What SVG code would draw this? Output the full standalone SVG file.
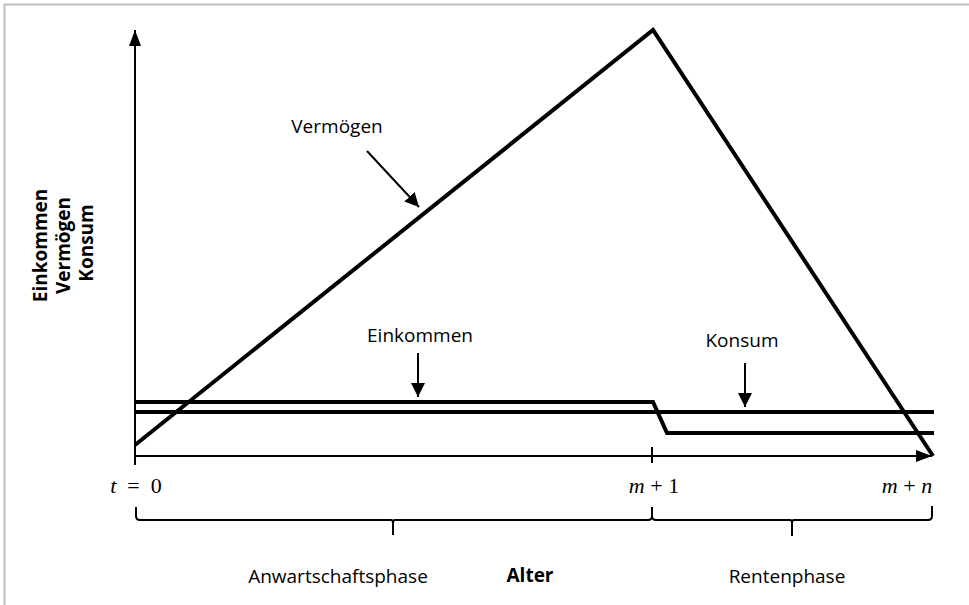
<svg xmlns="http://www.w3.org/2000/svg" width="969" height="605" viewBox="0 0 969 605">
<style>
.thick{fill:none;stroke:#000;stroke-width:4;stroke-linejoin:miter}
.thin{fill:none;stroke:#000;stroke-width:2}
.lbl{font-family:"Open Sans","Noto Sans",sans-serif;font-size:19px;fill:#000}
.bold{font-family:"Open Sans","Noto Sans",sans-serif;font-size:19px;font-weight:bold;fill:#000}
.math{font-family:"Liberation Serif","DejaVu Serif",serif;font-size:22px;fill:#000}
</style>
<defs>
<marker id="ah" markerWidth="14" markerHeight="14" refX="14" refY="7" orient="auto" markerUnits="userSpaceOnUse">
<path d="M0,0 L14,7 L0,14 Z" fill="#000"/>
</marker>
<marker id="axh" markerWidth="16" markerHeight="14" refX="16" refY="7" orient="auto" markerUnits="userSpaceOnUse">
<path d="M0,1 L16,7 L0,13 Z" fill="#000"/>
</marker>
</defs>
<rect width="969" height="605" fill="#fff"/>
<rect x="4.5" y="4.5" width="975" height="615" fill="none" stroke="#bdbdbd" stroke-width="2"/>

<g id="axes">
<line class="thin" x1="135" y1="465" x2="135" y2="30" marker-end="url(#axh)"/>
<line class="thin" x1="135" y1="456" x2="932" y2="456" marker-end="url(#axh)"/>
<line class="thin" x1="652" y1="447" x2="652" y2="463"/>
</g>

<g id="curves">
<polyline id="vermoegen-line" class="thick" points="135,445 653,30 933,456"/>
<polyline id="einkommen-line" class="thick" points="135,402 653,402 667,433 934,433"/>
<polyline id="konsum-line" class="thick" points="135,412 934,412"/>
</g>

<g id="connectors">
<line class="thin" x1="367" y1="151" x2="419" y2="207" marker-end="url(#ah)"/>
<line class="thin" x1="418" y1="353" x2="418" y2="397" marker-end="url(#ah)"/>
<line class="thin" x1="745" y1="363" x2="745" y2="407" marker-end="url(#ah)"/>
</g>

<g id="label-vermoegen"><text class="lbl" x="337" y="133" text-anchor="middle">Vermögen</text></g>
<g id="label-einkommen"><text class="lbl" x="420" y="342" text-anchor="middle">Einkommen</text></g>
<g id="label-konsum"><text class="lbl" x="742" y="347" text-anchor="middle">Konsum</text></g>

<g id="y-label">
<text class="bold" transform="translate(93,243) rotate(-90)" text-anchor="middle">
<tspan x="0" y="-46">Einkommen</tspan>
<tspan x="0" y="-23">Vermögen</tspan>
<tspan x="0" y="0">Konsum</tspan>
</text>
</g>

<g id="ticks">
<text class="math" x="136" y="493" text-anchor="middle" xml:space="preserve"><tspan font-style="italic">t</tspan>  =  0</text>
<text class="math" x="654" y="493" text-anchor="middle"><tspan font-style="italic">m</tspan> + 1</text>
<text class="math" x="907" y="493" text-anchor="middle"><tspan font-style="italic">m</tspan> + <tspan font-style="italic">n</tspan></text>
</g>

<g id="braces">
<path class="thin" d="M136,507 L136,516 Q136,520 140,520 L391,520 Q393,520 393,523 L393,535 M393,523 Q393,520 395,520 L648,520 Q652,520 652,516 L652,507"/>
<path class="thin" d="M652,516 Q652,520 656,520 L790,520 Q792,520 792,523 L792,536 M792,523 Q792,520 794,520 L928,520 Q932,520 932,516 L932,506"/>
</g>

<g id="label-anwartschaft"><text class="lbl" x="338" y="583" text-anchor="middle">Anwartschaftsphase</text></g>
<g id="label-alter"><text class="bold" x="530" y="582" text-anchor="middle">Alter</text></g>
<g id="label-rente"><text class="lbl" x="787" y="583" text-anchor="middle">Rentenphase</text></g>
</svg>
